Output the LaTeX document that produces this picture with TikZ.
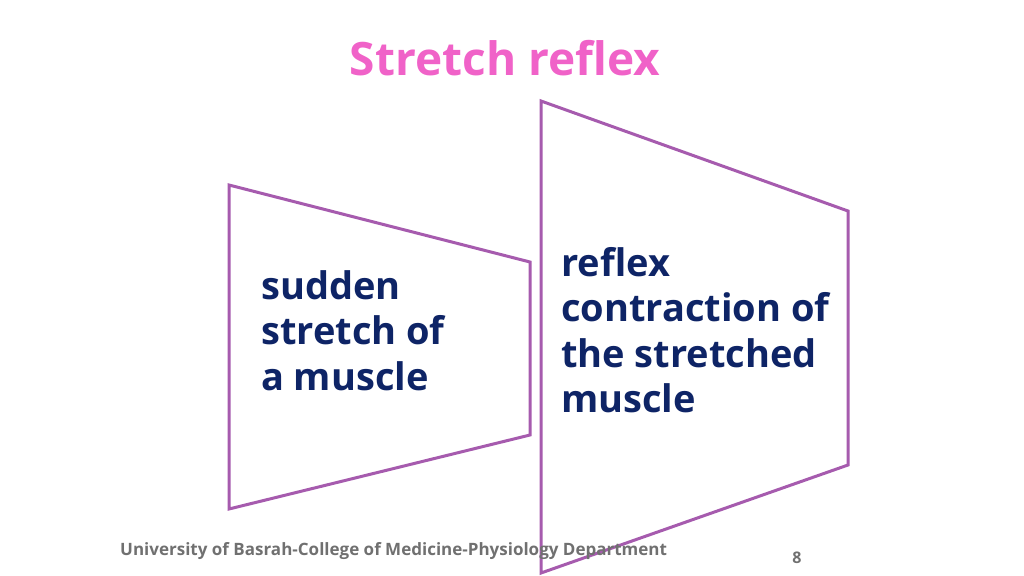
\documentclass[tikz,border=0pt]{standalone}
\usepackage{fontspec}
\setmainfont{Open Sans}[BoldFont={Open Sans Bold}]
\definecolor{frame}{HTML}{A65BAE}
\definecolor{navy}{HTML}{0E2466}
\definecolor{pinkt}{HTML}{F062C8}
\definecolor{foot}{HTML}{707070}
\begin{document}
\begin{tikzpicture}[x=1pt,y=-1pt,
  trap/.style={draw=frame,line width=3pt,line join=miter},
  body/.style={text=navy,font=\bfseries\fontsize{38}{45.5}\selectfont,align=left,anchor=north west,inner sep=0pt}]
\useasboundingbox (0,0) rectangle (1024,575);
\node[font=\bfseries\fontsize{46}{52}\selectfont,text=pinkt] (title) at (505,58) {Stretch reflex};
\draw[trap] (229,185) -- (530,262) -- (530,435) -- (229,509) -- cycle;
\draw[trap] (541,101) -- (848,211) -- (848,465) -- (541,573) -- cycle;
\node[body] (l) at (261,270) {sudden\\stretch of\\a muscle};
\node[body] (r) at (561,247) {reflex\\contraction of\\the stretched\\muscle};
\node[font=\bfseries\fontsize{17}{20}\selectfont,text=foot,anchor=west,inner sep=0pt] (f) at (120,551) {University of Basrah-College of Medicine-Physiology Department};
\node[font=\bfseries\fontsize{16}{18}\selectfont,text=foot,inner sep=0pt] (n) at (797,558) {8};
\end{tikzpicture}
\end{document}
